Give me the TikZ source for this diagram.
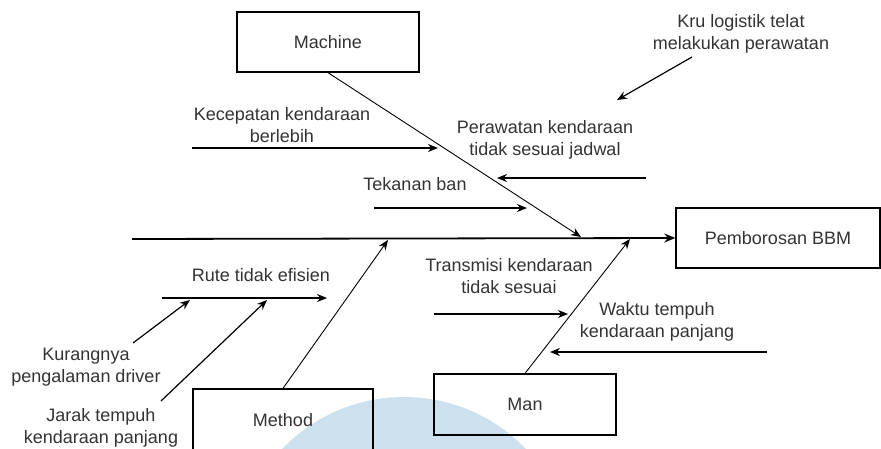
\documentclass[tikz,border=0pt]{standalone}
\usepackage{fontspec}
\setmainfont{Liberation Sans}
\usetikzlibrary{arrows.meta}
\definecolor{txt}{RGB}{51,51,51}
\definecolor{blob}{RGB}{204,224,237}
\begin{document}
\begin{tikzpicture}[x=1pt,y=-1pt,
  font=\fontsize{18}{22.5}\selectfont,
  box/.style={draw=black,line width=1.3pt,minimum width=182pt,minimum height=60pt,inner sep=0pt,text=txt},
  lbl/.style={align=center,text=txt,inner sep=0pt},
  arr/.style={line width=1.2pt,-{Stealth[length=10pt,width=8pt]}},
  bone/.style={line width=0.9pt,-{Stealth[length=10pt,width=8pt]}},
  spine/.style={line width=1.8pt,-{Stealth[length=11pt,width=9pt]}}]
\useasboundingbox (0,0) rectangle (881,449);
\begin{scope}
\clip (0,0) rectangle (881,449);
\fill[blob] (404,566) circle (169pt);
\end{scope}
% boxes
\node[box] (machine) at (328,42) {Machine};
\node[box,minimum width=204pt] (effect) at (778,238) {Pemborosan BBM};
\node[box,minimum width=180pt,minimum height=62pt] (method) at (283,420) {Method};
\node[box,minimum height=61pt] (man) at (525,404.5) {Man};
% spine
\coordinate (s0) at (132,239);
\draw[spine] (s0) -- (effect.west);
% bones
\coordinate (mt) at (581,237);
\draw[bone] (machine.south) -- (mt);
\coordinate (met) at (388,240);
\draw[bone] (method.north) -- (met);
\coordinate (mant) at (630,239);
\draw[bone] (man.north) -- (mant);
% labels
\node[lbl] (kec) at (282,125) {Kecepatan kendaraan\\berlebih};
\node[lbl] (tek) at (415,184) {Tekanan ban};
\node[lbl] (per) at (545,140) {Perawatan kendaraan\\tidak sesuai jadwal};
\node[lbl] (kru) at (741,34) {Kru logistik telat\\melakukan perawatan};
\node[lbl] (rute) at (261,275) {Rute tidak efisien};
\node[lbl] (kur) at (86,367) {Kurangnya\\pengalaman driver};
\node[lbl] (jar) at (101,428) {Jarak tempuh\\kendaraan panjang};
\node[lbl] (tra) at (509,276) {Transmisi kendaraan\\tidak sesuai};
\node[lbl] (wak) at (657,322) {Waktu tempuh\\kendaraan panjang};
% cause arrows
\coordinate (k0) at (192,148); \coordinate (k1) at (438,148);
\draw[arr] (k0) -- (k1);
\coordinate (t0) at (374,208); \coordinate (t1) at (527,208);
\draw[arr] (t0) -- (t1);
\coordinate (p0) at (646,178); \coordinate (p1) at (497,178);
\draw[arr] (p0) -- (p1);
\coordinate (r0) at (692,57); \coordinate (r1) at (617,100);
\draw[arr] (r0) -- (r1);
\coordinate (u0) at (162,298); \coordinate (u1) at (327,298);
\draw[arr] (u0) -- (u1);
\coordinate (g0) at (133,343); \coordinate (g1) at (190,300);
\draw[arr] (g0) -- (g1);
\coordinate (j0) at (161,401); \coordinate (j1) at (267,300);
\draw[arr] (j0) -- (j1);
\coordinate (x0) at (434,314); \coordinate (x1) at (568,314);
\draw[arr] (x0) -- (x1);
\coordinate (w0) at (767,352); \coordinate (w1) at (550,352);
\draw[arr] (w0) -- (w1);
\end{tikzpicture}
\end{document}
